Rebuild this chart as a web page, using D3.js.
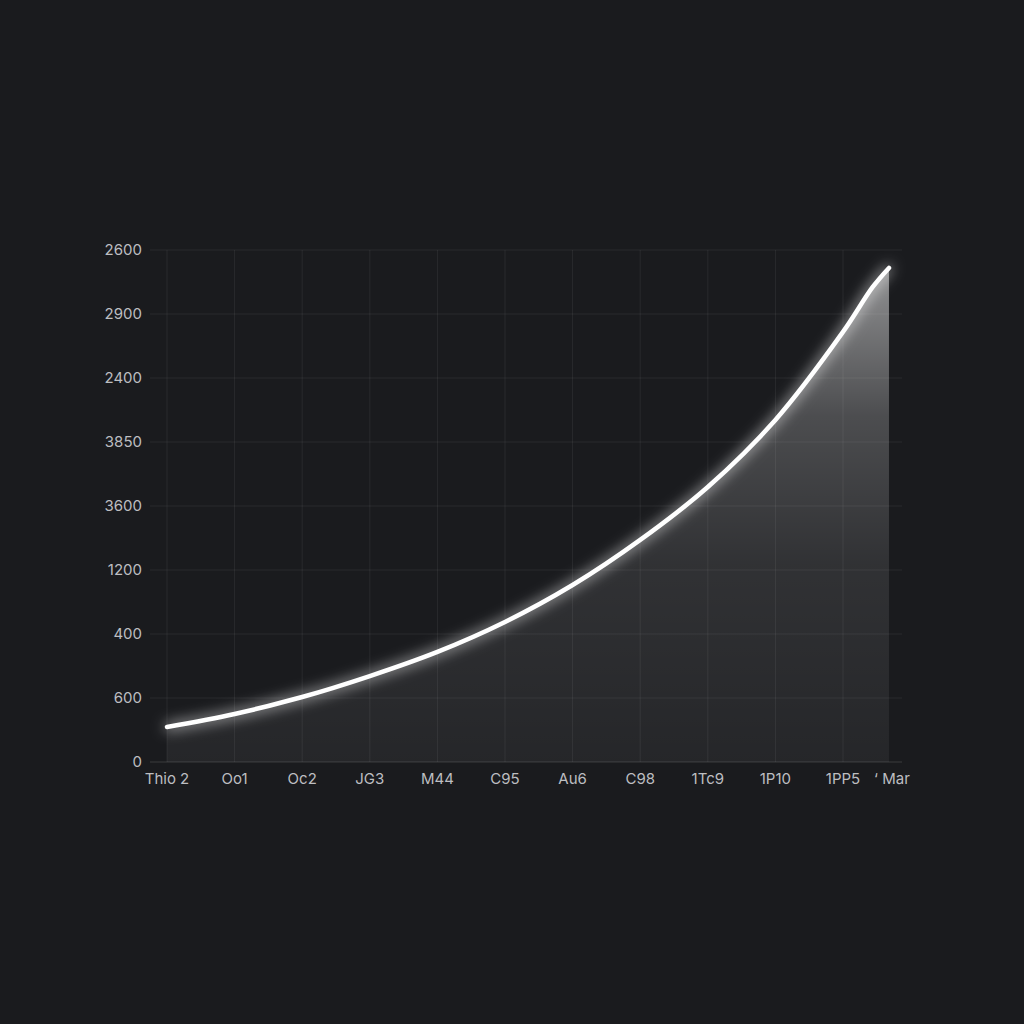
<!DOCTYPE html>
<html>
<head>
<meta charset="utf-8">
<script src="https://cdn.jsdelivr.net/npm/d3@7"></script>
<style>
  html,body{margin:0;padding:0;background:#1a1b1e;}
  svg{display:block;}
  text{font-family:"Inter","Roboto",sans-serif;}
</style>
</head>
<body>
<div id="chart"></div>
<script>
// ---- data ----
const categories = ["Thio 2","Oo1","Oc2","JG3","M44","C95","Au6","C98","1Tc9","1P10","1PP5","\u2018 Mar"];
const xIndex = [0,1,2,3,4,5,6,7,8,9,10,10.68];
const values = [219,300,406,537,688,875,1106,1388,1719,2138,2688,3088];
// extra sample between the last two categories (shoulder near the top)
const shoulderIndex = 10.44;
const shoulderValue = 2969;
const yTickValues = [0,400,800,1200,1600,2000,2400,2800,3200];
const yTickLabels = ["0","600","400","1200","3600","3850","2400","2900","2600"];
const xGridIndex = [0,1,2,3,4,5,6,7,8,9,10];

const W = 1024, H = 1024;
const svg = d3.select("#chart").append("svg").attr("width", W).attr("height", H);
svg.append("rect").attr("width", W).attr("height", H).attr("fill", "#1a1b1e");

const x = d3.scaleLinear().domain([0, 10]).range([167, 843]);
const y = d3.scaleLinear().domain([0, 3200]).range([762, 250]);
const gridLeft = 150, gridRight = 902;

const defs = svg.append("defs");
const grad = defs.append("linearGradient").attr("id","areaGrad")
  .attr("gradientUnits","userSpaceOnUse")
  .attr("x1", 0).attr("y1", y(3088))
  .attr("x2", 0).attr("y2", y(0));
grad.append("stop").attr("offset","0%").attr("stop-color","#ffffff").attr("stop-opacity",0.52);
grad.append("stop").attr("offset","30%").attr("stop-color","#ffffff").attr("stop-opacity",0.22);
grad.append("stop").attr("offset","60%").attr("stop-color","#ffffff").attr("stop-opacity",0.1);
grad.append("stop").attr("offset","100%").attr("stop-color","#ffffff").attr("stop-opacity",0.05);

const glow = defs.append("filter").attr("id","glow")
  .attr("x","-20%").attr("y","-20%").attr("width","140%").attr("height","140%");
glow.append("feGaussianBlur").attr("stdDeviation",7).attr("result","b");
const m = glow.append("feMerge");
m.append("feMergeNode").attr("in","b");
m.append("feMergeNode").attr("in","SourceGraphic");

const pts = xIndex.map((xi, i) => [xi, values[i]]);
pts.splice(pts.length - 1, 0, [shoulderIndex, shoulderValue]);
const curve = d3.curveCatmullRom.alpha(0.5);

// area
svg.append("path").datum(pts)
  .attr("d", d3.area().x(d => x(d[0])).y0(y(0)).y1(d => y(d[1])).curve(curve))
  .attr("fill", "url(#areaGrad)");

// grid (on top of area, translucent)
const g = svg.append("g");
g.selectAll("line.h").data(yTickValues).join("line")
  .attr("x1", gridLeft).attr("x2", gridRight)
  .attr("y1", d => y(d)).attr("y2", d => y(d))
  .attr("stroke", "#ffffff").attr("stroke-opacity", d => d === 0 ? 0.14 : 0.065).attr("stroke-width", 1);
g.selectAll("line.v").data(xGridIndex).join("line")
  .attr("x1", d => x(d)).attr("x2", d => x(d))
  .attr("y1", y(3200)).attr("y2", y(0))
  .attr("stroke", "#ffffff").attr("stroke-opacity", 0.065).attr("stroke-width", 1);

// line glow + line
svg.append("path").datum(pts)
  .attr("d", d3.line().x(d => x(d[0])).y(d => y(d[1])).curve(curve))
  .attr("fill", "none").attr("stroke", "#ffffff").attr("stroke-width", 4.5)
  .attr("stroke-linecap","round").attr("filter","url(#glow)");

// y labels
svg.selectAll("text.y").data(yTickValues).join("text")
  .attr("x", 142).attr("y", d => y(d)).attr("dy","0.35em")
  .attr("text-anchor","end").attr("fill","#bdbec1").attr("font-size",15)
  .text((d,i) => yTickLabels[i]);

// x labels
svg.selectAll("text.x").data(categories).join("text")
  .attr("x", (d,i) => x(xIndex[i]) + (i === categories.length-1 ? 3 : 0))
  .attr("y", 784).attr("text-anchor","middle")
  .attr("fill","#bdbec1").attr("font-size",15)
  .text(d => d);
</script>
</body>
</html>
